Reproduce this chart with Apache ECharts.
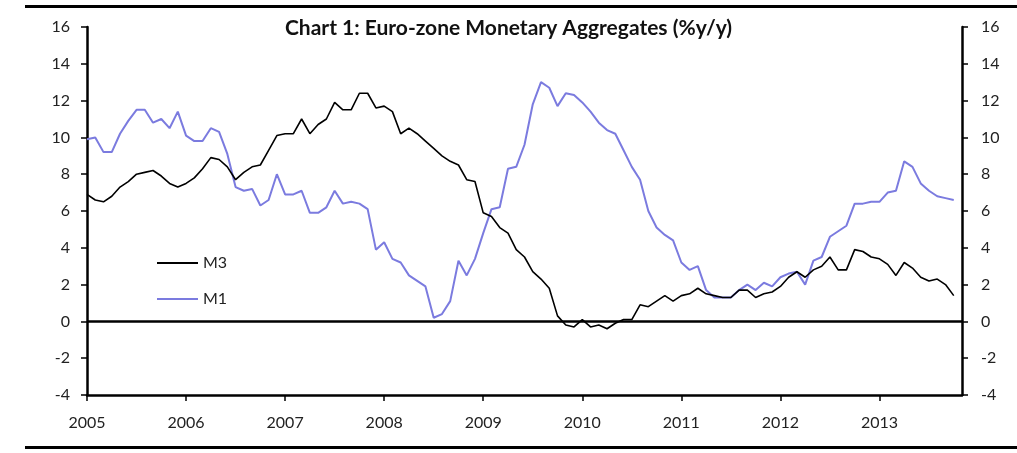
<!DOCTYPE html>
<html>
<head>
<meta charset="utf-8">
<script src="https://cdn.jsdelivr.net/npm/echarts@6/dist/echarts.min.js"></script>
<style>
  html, body { margin: 0; padding: 0; background: #fff; }
  #chart { width: 1017px; height: 453px; }
</style>
</head>
<body>
<div id="chart"></div>
<script>
// Monthly observations, Jan 2005 - Oct 2013
const months = [
  '2005-01','2005-02','2005-03','2005-04','2005-05','2005-06','2005-07','2005-08','2005-09','2005-10','2005-11','2005-12',
  '2006-01','2006-02','2006-03','2006-04','2006-05','2006-06','2006-07','2006-08','2006-09','2006-10','2006-11','2006-12',
  '2007-01','2007-02','2007-03','2007-04','2007-05','2007-06','2007-07','2007-08','2007-09','2007-10','2007-11','2007-12',
  '2008-01','2008-02','2008-03','2008-04','2008-05','2008-06','2008-07','2008-08','2008-09','2008-10','2008-11','2008-12',
  '2009-01','2009-02','2009-03','2009-04','2009-05','2009-06','2009-07','2009-08','2009-09','2009-10','2009-11','2009-12',
  '2010-01','2010-02','2010-03','2010-04','2010-05','2010-06','2010-07','2010-08','2010-09','2010-10','2010-11','2010-12',
  '2011-01','2011-02','2011-03','2011-04','2011-05','2011-06','2011-07','2011-08','2011-09','2011-10','2011-11','2011-12',
  '2012-01','2012-02','2012-03','2012-04','2012-05','2012-06','2012-07','2012-08','2012-09','2012-10','2012-11','2012-12',
  '2013-01','2013-02','2013-03','2013-04','2013-05','2013-06','2013-07','2013-08','2013-09','2013-10'
];

const yearLabels = ['2005','2006','2007','2008','2009','2010','2011','2012','2013'];

const m3 = [
  6.9, 6.6, 6.5, 6.8, 7.3, 7.6, 8.0, 8.1, 8.2, 7.9, 7.5, 7.3,
  7.5, 7.8, 8.3, 8.9, 8.8, 8.4, 7.7, 8.1, 8.4, 8.5, 9.3, 10.1,
  10.2, 10.2, 11.0, 10.2, 10.7, 11.0, 11.9, 11.5, 11.5, 12.4, 12.4, 11.6,
  11.7, 11.4, 10.2, 10.5, 10.2, 9.8, 9.4, 9.0, 8.7, 8.5, 7.7, 7.6,
  5.9, 5.7, 5.1, 4.8, 3.9, 3.5, 2.7, 2.3, 1.8, 0.3, -0.2, -0.3,
  0.1, -0.3, -0.2, -0.4, -0.1, 0.1, 0.1, 0.9, 0.8, 1.1, 1.4, 1.1,
  1.4, 1.5, 1.8, 1.5, 1.4, 1.3, 1.3, 1.7, 1.7, 1.3, 1.5, 1.6,
  1.9, 2.4, 2.7, 2.4, 2.8, 3.0, 3.5, 2.8, 2.8, 3.9, 3.8, 3.5,
  3.4, 3.1, 2.5, 3.2, 2.9, 2.4, 2.2, 2.3, 2.0, 1.4
];

const m1 = [
  9.9, 10.0, 9.2, 9.2, 10.2, 10.9, 11.5, 11.5, 10.8, 11.0, 10.5, 11.4,
  10.1, 9.8, 9.8, 10.5, 10.3, 9.1, 7.3, 7.1, 7.2, 6.3, 6.6, 8.0,
  6.9, 6.9, 7.1, 5.9, 5.9, 6.2, 7.1, 6.4, 6.5, 6.4, 6.1, 3.9,
  4.3, 3.4, 3.2, 2.5, 2.2, 1.9, 0.2, 0.4, 1.1, 3.3, 2.5, 3.4,
  4.8, 6.1, 6.2, 8.3, 8.4, 9.6, 11.8, 13.0, 12.7, 11.7, 12.4, 12.3,
  11.9, 11.4, 10.8, 10.4, 10.2, 9.3, 8.4, 7.7, 6.0, 5.1, 4.7, 4.4,
  3.2, 2.8, 3.0, 1.7, 1.3, 1.3, 1.3, 1.7, 2.0, 1.7, 2.1, 1.9,
  2.4, 2.6, 2.7, 2.0, 3.3, 3.5, 4.6, 4.9, 5.2, 6.4, 6.4, 6.5,
  6.5, 7.0, 7.1, 8.7, 8.4, 7.5, 7.1, 6.8, 6.7, 6.6
];

const FONT = 'Lato, "Open Sans", sans-serif';
const yearTicks = yearLabels.map((y, i) => i * 12);

const yAxisBase = {
  type: 'value', min: -4, max: 16, interval: 2,
  axisLine: { show: true, lineStyle: { color: '#000', width: 2.5 } },
  axisTick: { show: true, length: 6, lineStyle: { color: '#000', width: 1.5 } },
  splitLine: { show: false },
  axisLabel: { fontFamily: FONT, fontSize: 16, color: '#222' }
};

const chart = echarts.init(document.getElementById('chart'), null, { renderer: 'canvas' });
chart.setOption({
  animation: false,
  backgroundColor: '#fff',
  title: {
    text: 'Chart 1: Euro-zone Monetary Aggregates (%y/y)',
    left: 'center', top: 13,
    textStyle: { fontFamily: FONT, fontSize: 21, fontWeight: 'bold', color: '#111' }
  },
  grid: { left: 87, right: 55, top: 27, bottom: 58 },
  legend: {
    orient: 'vertical', left: 152, top: 248,
    icon: 'rect', itemWidth: 41, itemHeight: 2, itemGap: 16,
    data: ['M3', 'M1'],
    textStyle: { fontFamily: FONT, fontSize: 16, color: '#222', lineHeight: 20 }
  },
  xAxis: {
    type: 'value', min: 0, max: months.length,
    axisLine: { onZero: false, lineStyle: { color: '#000', width: 2.5 } },
    axisTick: { show: true, length: 6, customValues: yearTicks, lineStyle: { color: '#000', width: 1.5 } },
    axisLabel: {
      customValues: yearTicks, margin: 20,
      formatter: v => yearLabels[Math.round(v / 12)] || '',
      fontFamily: FONT, fontSize: 16, color: '#222'
    },
    splitLine: { show: false }
  },
  yAxis: [
    Object.assign({}, yAxisBase, { position: 'left', axisLabel: Object.assign({}, yAxisBase.axisLabel, { margin: 17 }) }),
    Object.assign({}, yAxisBase, { position: 'right', axisLabel: Object.assign({}, yAxisBase.axisLabel, { margin: 19 }) })
  ],
  series: [
    {
      name: 'M1', type: 'line', yAxisIndex: 0, symbol: 'none',
      data: m1.map((v, i) => [i, v]),
      lineStyle: { color: '#7b7bdf', width: 2 }, itemStyle: { color: '#7b7bdf' }
    },
    {
      name: 'M3', type: 'line', yAxisIndex: 0, symbol: 'none',
      data: m3.map((v, i) => [i, v]),
      lineStyle: { color: '#000', width: 1.6 }, itemStyle: { color: '#000' },
      markLine: {
        silent: true, symbol: 'none', label: { show: false },
        lineStyle: { color: '#000', width: 2.5, type: 'solid' },
        data: [{ yAxis: 0 }]
      }
    }
  ],
  graphic: [
    { type: 'rect', shape: { x: 25, y: 5, width: 992, height: 3 }, style: { fill: '#000' }, silent: true },
    { type: 'rect', shape: { x: 25, y: 446, width: 992, height: 3 }, style: { fill: '#000' }, silent: true }
  ]
});
</script>
</body>
</html>
